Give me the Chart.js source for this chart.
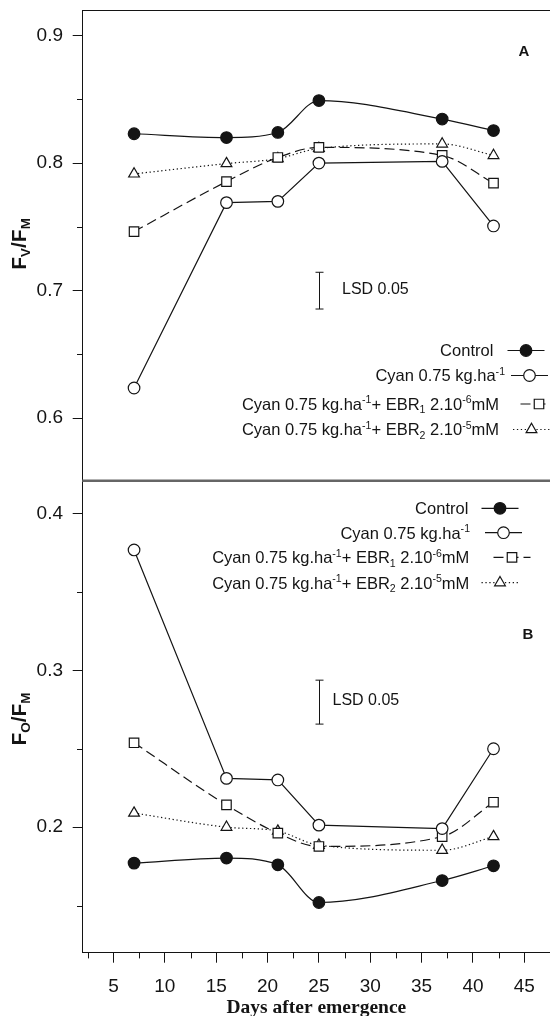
<!DOCTYPE html>
<html>
<head>
<meta charset="utf-8">
<script src="https://cdn.jsdelivr.net/npm/chart.js@4.4.1/dist/chart.umd.min.js"></script>
<style>
  html, body { margin: 0; padding: 0; background: #fff; overflow: hidden; width: 550px; height: 1016px; }
  .panel { position: absolute; left: 0; }
  #wrapA { top: 0; }
  #wrapB { top: 482px; }
</style>
</head>
<body>
<div id="wrapA" class="panel"><canvas id="panelA" width="550" height="482"></canvas></div>
<div id="wrapB" class="panel"><canvas id="panelB" width="550" height="538"></canvas></div>
<script>
// Sampling days (days after emergence)
const days = [7, 16, 21, 25, 37, 42];

// Fv/Fm
const fvfmControl = [0.823, 0.820, 0.824, 0.849, 0.8345, 0.8255];
const fvfmCyan    = [0.6237, 0.769, 0.770, 0.800, 0.8013, 0.7507];
const fvfmEbr1    = [0.7463, 0.7855, 0.8044, 0.8123, 0.806, 0.7843];
const fvfmEbr2    = [0.7915, 0.7996, 0.8035, 0.8115, 0.815, 0.806];

// Fo/Fm
const fofmControl = [0.1771, 0.1803, 0.176, 0.152, 0.166, 0.1754];
const fofmCyan    = [0.3767, 0.2311, 0.2301, 0.2013, 0.1991, 0.250];
const fofmEbr1    = [0.2538, 0.2142, 0.1962, 0.1877, 0.194, 0.2159];
const fofmEbr2    = [0.209, 0.200, 0.1975, 0.1885, 0.1853, 0.194];

// LSD (P = 0.05) bars: day, centre, length
const lsdDay = 25;
const lsdFvfm = [0.700, 0.0288];
const lsdFofm = [0.2797, 0.028];

// Axis ticks
const dayTicks   = [5, 10, 15, 20, 25, 30, 35, 40, 45];
const dayMinor   = [2.5, 7.5, 12.5, 17.5, 22.5, 27.5, 32.5, 37.5, 42.5, 47.5];
const fvfmTicks  = [0.6, 0.7, 0.8, 0.9];
const fvfmMinor  = [0.65, 0.75, 0.85];
const fofmTicks  = [0.2, 0.3, 0.4];
const fofmMinor  = [0.15, 0.25, 0.35];

// Treatment names as text runs: [text, 'sup' | 'sub' | '']
const seriesNames = [
  [['Control', '']],
  [['Cyan 0.75 kg.ha', ''], ['-1', 'sup']],
  [['Cyan 0.75 kg.ha', ''], ['-1', 'sup'], ['+ EBR', ''], ['1', 'sub'], [' 2.10', ''], ['-6', 'sup'], ['mM', '']],
  [['Cyan 0.75 kg.ha', ''], ['-1', 'sup'], ['+ EBR', ''], ['2', 'sub'], [' 2.10', ''], ['-5', 'sup'], ['mM', '']]
];
const yTitleA = [['F', ''], ['V', 'sub'], ['/F', ''], ['M', 'sub']];
const yTitleB = [['F', ''], ['O', 'sub'], ['/F', ''], ['M', 'sub']];

const SANS = "'Liberation Sans', Arial, Helvetica, sans-serif";
const INK = '#141414';
const KEY_SIZE = 16.5;

// Marker and line appearance for each treatment
const seriesStyles = [
  { pointStyle: 'circle',   radius: 5.8, fill: INK,    dash: [],        smooth: true  },
  { pointStyle: 'circle',   radius: 5.8, fill: '#fff', dash: [],        smooth: false },
  { pointStyle: 'rect',     radius: 6.7, fill: '#fff', dash: [10, 5],   smooth: true  },
  { pointStyle: 'triangle', radius: 6.2, fill: '#fff', dash: [1.3, 2.6], smooth: true  }
];

function makeDatasets(valueLists) {
  return valueLists.map((vals, i) => {
    const s = seriesStyles[i];
    return {
      data: days.map((d, k) => ({ x: d, y: vals[k] })),
      borderColor: INK,
      borderWidth: 1.2,
      borderDash: s.dash,
      tension: 0,
      cubicInterpolationMode: s.smooth ? 'monotone' : 'default',
      pointStyle: s.pointStyle,
      pointRadius: s.radius,
      pointBackgroundColor: s.fill,
      pointBorderColor: INK,
      pointBorderWidth: 1.2,
      clip: false
    };
  });
}

// Rich text helpers (superscripts / subscripts)
function runFont(kind, size, weight) {
  const sz = kind ? size * 0.64 : size;
  return `${weight || 'normal'} ${sz}px ${SANS}`;
}
function runsWidth(ctx, runs, size, weight) {
  let w = 0;
  runs.forEach(([t, k]) => { ctx.font = runFont(k, size, weight); w += ctx.measureText(t).width; });
  return w;
}
function drawRuns(ctx, runs, x, baseline, size, weight) {
  ctx.textBaseline = 'alphabetic';
  ctx.textAlign = 'left';
  runs.forEach(([t, k]) => {
    ctx.font = runFont(k, size, weight);
    let y = baseline;
    if (k === 'sup') y -= size * 0.40;
    if (k === 'sub') y += size * 0.22;
    ctx.fillText(t, x, y);
    x += ctx.measureText(t).width;
  });
}
function seg(ctx, x1, y1, x2, y2) {
  ctx.beginPath(); ctx.moveTo(x1, y1); ctx.lineTo(x2, y2); ctx.stroke();
}

// Frame extras, minor ticks, LSD bar, key, axis title and panel letter
function decorPlugin(cfg) {
  return {
    id: 'decor',
    afterDraw(chart) {
      const ctx = chart.ctx, ca = chart.chartArea;
      const xs = chart.scales.x, ys = chart.scales.y;
      ctx.save();
      ctx.strokeStyle = INK; ctx.fillStyle = INK; ctx.lineWidth = 1;

      cfg.minorY.forEach(v => {
        const y = Math.round(ys.getPixelForValue(v)) + 0.5;
        seg(ctx, ca.left - 5.7, y, ca.left, y);
      });
      if (cfg.minorX) {
        cfg.minorX.forEach(v => {
          const x = Math.round(xs.getPixelForValue(v)) + 0.5;
          if (x < chart.width) seg(ctx, x, ca.bottom, x, ca.bottom + 5.7);
        });
      }
      if (cfg.topFrame) seg(ctx, ca.left, ca.top + 0.5, chart.width, ca.top + 0.5);
      if (cfg.separator) {
        ctx.save(); ctx.strokeStyle = '#666'; ctx.lineWidth = 2.5;
        seg(ctx, ca.left - 0.5, chart.height - 1.2, chart.width, chart.height - 1.2);
        ctx.restore();
      }

      // LSD bar
      const lx = Math.round(xs.getPixelForValue(lsdDay)) + 0.5;
      const y1 = ys.getPixelForValue(cfg.lsd[0] + cfg.lsd[1] / 2);
      const y2 = ys.getPixelForValue(cfg.lsd[0] - cfg.lsd[1] / 2);
      seg(ctx, lx, y1, lx, y2);
      seg(ctx, lx - 4, y1, lx + 4, y1);
      seg(ctx, lx - 4, y2, lx + 4, y2);
      ctx.font = `16px ${SANS}`; ctx.textBaseline = 'middle'; ctx.textAlign = 'left';
      ctx.fillText('LSD 0.05', cfg.lsdText[0], cfg.lsdText[1]);

      // Key
      const L = cfg.key;
      seriesNames.forEach((runs, i) => {
        const st = seriesStyles[i];
        const y = L.rows[i];
        const w = runsWidth(ctx, runs, KEY_SIZE);
        ctx.fillStyle = INK;
        drawRuns(ctx, runs, L.textRight[i] - w, y + 5.8, KEY_SIZE);
        const mx = L.marker[i];
        ctx.save();
        ctx.lineWidth = 1.2; ctx.setLineDash(st.dash);
        seg(ctx, mx - 18.5, y, mx + 18.5, y);
        ctx.setLineDash([]);
        ctx.fillStyle = st.fill; ctx.strokeStyle = INK;
        Chart.helpers.drawPoint(ctx, { pointStyle: st.pointStyle, radius: st.radius, rotation: 0, borderWidth: 1.2 }, mx, y);
        ctx.restore();
      });

      // Y axis title
      ctx.save();
      ctx.fillStyle = INK;
      const tw = runsWidth(ctx, cfg.yTitle, 21, 'bold');
      ctx.translate(25.5, cfg.yTitleCenter);
      ctx.rotate(-Math.PI / 2);
      drawRuns(ctx, cfg.yTitle, -tw / 2, 0, 21, 'bold');
      ctx.restore();

      // Panel letter
      ctx.font = `bold 15px ${SANS}`; ctx.textAlign = 'center'; ctx.textBaseline = 'middle';
      ctx.fillStyle = INK;
      ctx.fillText(cfg.letter[0], cfg.letter[1], cfg.letter[2]);
      ctx.restore();
    }
  };
}

function noPad(s) {
  s.paddingTop = 0; s.paddingBottom = 0; s.paddingLeft = 0; s.paddingRight = 0;
}

function yScale(min, max, ticks) {
  return {
    type: 'linear', min, max,
    afterBuildTicks: s => { s.ticks = ticks.map(v => ({ value: v })); },
    afterFit: s => { s.width = 82.7; noPad(s); },
    ticks: { font: { size: 19, family: SANS }, color: INK, padding: 9.7, callback: v => v.toFixed(1) },
    grid: { drawOnChartArea: false, tickLength: 10, tickColor: INK, tickWidth: 1 },
    border: { color: INK, width: 1 }
  };
}

Chart.defaults.font.family = SANS;
Chart.defaults.color = INK;

const baseOpts = {
  responsive: false, animation: false, devicePixelRatio: 1,
  plugins: { legend: { display: false }, tooltip: { enabled: false } },
  elements: { line: { fill: false } }
};

new Chart(document.getElementById('panelA'), {
  type: 'line',
  data: { datasets: makeDatasets([fvfmControl, fvfmCyan, fvfmEbr1, fvfmEbr2]) },
  options: {
    ...baseOpts,
    layout: { autoPadding: false, padding: { top: 10, left: 0, right: 0, bottom: 0 } },
    scales: {
      x: { type: 'linear', min: 2, max: 47.5, display: false },
      y: yScale(0.55, 0.92, fvfmTicks)
    }
  },
  plugins: [decorPlugin({
    minorY: fvfmMinor, topFrame: true, separator: true,
    lsd: lsdFvfm, lsdText: [342, 290],
    key: { rows: [350.5, 375.5, 404, 429.5], textRight: [493.3, 505, 499, 499], marker: [526, 529.5, 539, 531.5] },
    yTitle: yTitleA, yTitleCenter: 244,
    letter: ['A', 524, 52]
  })]
});

new Chart(document.getElementById('panelB'), {
  type: 'line',
  data: { datasets: makeDatasets([fofmControl, fofmCyan, fofmEbr1, fofmEbr2]) },
  options: {
    ...baseOpts,
    layout: { autoPadding: false, padding: { top: 0, left: 0, right: 0, bottom: 0 } },
    scales: {
      x: {
        type: 'linear', min: 2, max: 47.5,
        afterBuildTicks: s => { s.ticks = dayTicks.map(v => ({ value: v })); },
        afterFit: s => { s.height = 67.3; noPad(s); },
        ticks: { font: { size: 19, family: SANS }, color: INK, padding: 12.6, maxRotation: 0 },
        grid: { drawOnChartArea: false, tickLength: 10, tickColor: INK, tickWidth: 1 },
        border: { color: INK, width: 1 },
        title: {
          display: true, text: 'Days after emergence', color: INK,
          font: { family: "'Liberation Serif', 'Times New Roman', serif", weight: 'bold', size: 19.5 },
          padding: { top: 0, bottom: 0 }
        }
      },
      y: yScale(0.12, 0.42, fofmTicks)
    }
  },
  plugins: [decorPlugin({
    minorY: fofmMinor, minorX: dayMinor,
    lsd: lsdFofm, lsdText: [332.5, 218.7],
    key: { rows: [26.3, 50.7, 75.3, 100.7], textRight: [468.3, 470, 469.3, 469.3], marker: [500, 503.5, 512, 500] },
    yTitle: yTitleB, yTitleCenter: 237,
    letter: ['B', 528, 153]
  })]
});
</script>
</body>
</html>
